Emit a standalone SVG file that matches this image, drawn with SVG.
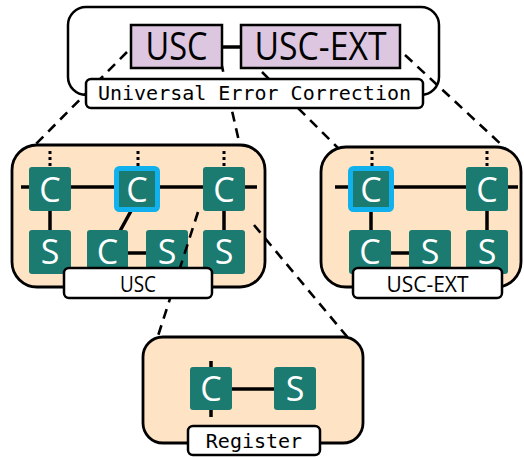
<svg xmlns="http://www.w3.org/2000/svg" width="524" height="457" viewBox="0 0 524 457">
<style>
.box{fill:#fff;stroke:#000;stroke-width:2.5}
.panel{fill:#fee3c4;stroke:#000;stroke-width:2.8}
.purple{fill:#ddc6e0;stroke:#000;stroke-width:2.5}
.tile{fill:#1b7b71}
.hl{fill:#1b7b71;stroke:#10b1ec;stroke-width:5}
.ln{stroke:#000;stroke-width:3.5;fill:none}
.dot{stroke:#000;stroke-width:3;stroke-dasharray:3 3;fill:none}
.dash{stroke:#000;stroke-width:2.6;stroke-dasharray:10 7;fill:none}
.tl{font-family:"Open Sans","Noto Sans",sans-serif;font-size:34px;fill:#fff;text-anchor:middle}
.mono{font-family:"DejaVu Sans Mono","Liberation Mono",monospace;font-size:20px;fill:#000;text-anchor:middle}
.sans{font-family:"Open Sans","Noto Sans",sans-serif;fill:#000;text-anchor:middle}
</style>
<g id="top-box">
<rect class="box" x="68" y="7" width="371" height="88" rx="18"/>
</g>
<g id="left-panel">
<rect class="panel" x="12" y="145" width="253" height="142" rx="25"/>
<line class="ln" x1="21" y1="187" x2="257" y2="187"/>
<line class="ln" x1="50" y1="211" x2="50" y2="230"/>
<line class="ln" x1="224" y1="211" x2="224" y2="230"/>
<line class="ln" x1="131" y1="211" x2="120" y2="231"/>
<line class="ln" x1="128" y1="253" x2="147" y2="253"/>
<line class="dot" x1="50" y1="151" x2="50" y2="166"/>
<line class="dot" x1="138" y1="151" x2="138" y2="166"/>
<line class="dot" x1="224" y1="151" x2="224" y2="166"/>
<rect class="tile" x="29" y="167" width="42" height="44" rx="3"/>
<rect class="hl" x="116.5" y="168.5" width="41" height="41" rx="3"/>
<rect class="tile" x="203" y="167" width="42" height="44" rx="3"/>
<rect class="tile" x="29" y="230" width="42" height="44" rx="3"/>
<rect class="tile" x="87" y="230" width="41" height="44" rx="3"/>
<rect class="tile" x="146" y="230" width="42" height="44" rx="3"/>
<rect class="tile" x="203" y="230" width="42" height="44" rx="3"/>
<text class="tl" x="50" y="202">C</text>
<text class="tl" x="137" y="202">C</text>
<text class="tl" x="224" y="202">C</text>
<text class="tl" x="50" y="264">S</text>
<text class="tl" x="107.5" y="264">C</text>
<text class="tl" x="167" y="264">S</text>
<text class="tl" x="224" y="264">S</text>
</g>
<g id="right-panel">
<rect class="panel" x="321" y="147" width="200" height="140" rx="25"/>
<line class="ln" x1="335" y1="187" x2="518" y2="187"/>
<line class="ln" x1="371" y1="211" x2="371" y2="230"/>
<line class="ln" x1="487" y1="211" x2="487" y2="230"/>
<line class="ln" x1="391" y1="253" x2="409" y2="253"/>
<line class="dot" x1="372" y1="151" x2="372" y2="166"/>
<line class="dot" x1="487" y1="151" x2="487" y2="166"/>
<rect class="hl" x="350.5" y="168.5" width="41" height="41" rx="3"/>
<rect class="tile" x="466" y="167" width="42" height="44" rx="3"/>
<rect class="tile" x="349" y="230" width="42" height="44" rx="3"/>
<rect class="tile" x="409" y="230" width="42" height="44" rx="3"/>
<rect class="tile" x="466" y="230" width="42" height="44" rx="3"/>
<text class="tl" x="371" y="202">C</text>
<text class="tl" x="487" y="202">C</text>
<text class="tl" x="370" y="264">C</text>
<text class="tl" x="430" y="264">S</text>
<text class="tl" x="487" y="264">S</text>
</g>
<g id="register-panel">
<rect class="panel" x="143" y="337" width="220" height="106" rx="20"/>
<line class="ln" x1="232" y1="389" x2="274" y2="389"/>
<line class="ln" x1="211" y1="361" x2="211" y2="367"/>
<line class="ln" x1="211" y1="410" x2="211" y2="417"/>
<rect class="tile" x="190" y="367" width="42" height="43" rx="3"/>
<rect class="tile" x="274" y="367" width="42" height="43" rx="3"/>
<text class="tl" x="211" y="401">C</text>
<text class="tl" x="295" y="401">S</text>
</g>
<g id="connectors">
<line class="dash" x1="127" y1="52" x2="34" y2="146"/>
<line class="dash" x1="221" y1="62" x2="240" y2="146"/>
<line class="dash" x1="262" y1="72" x2="338" y2="148"/>
<line class="dash" x1="405" y1="55" x2="505" y2="148"/>
<line class="dash" x1="198" y1="212" x2="157" y2="339"/>
<line class="dash" x1="254" y1="225" x2="349" y2="339"/>
<line class="ln" x1="222" y1="47" x2="241" y2="47"/>
</g>
<g id="usc-node">
<rect class="purple" x="131" y="25" width="91" height="43"/>
<text class="sans" x="176.5" y="60" font-size="38" textLength="62" lengthAdjust="spacingAndGlyphs">USC</text>
</g>
<g id="usc-ext-node">
<rect class="purple" x="241" y="25" width="159" height="43"/>
<text class="sans" x="320.5" y="60" font-size="38" textLength="132" lengthAdjust="spacingAndGlyphs">USC-EXT</text>
</g>
<g id="uec-label">
<rect class="box" x="86" y="79" width="337" height="29" rx="5"/>
<text class="mono" x="254.5" y="100">Universal Error Correction</text>
</g>
<g id="usc-label">
<rect class="box" x="64" y="268" width="148" height="30" rx="5"/>
<text class="sans" x="138" y="292" font-size="21" textLength="36" lengthAdjust="spacingAndGlyphs">USC</text>
</g>
<g id="usc-ext-label">
<rect class="box" x="353" y="268" width="149" height="30" rx="5"/>
<text class="sans" x="427.5" y="292" font-size="21" textLength="82" lengthAdjust="spacingAndGlyphs">USC-EXT</text>
</g>
<g id="register-label">
<rect class="box" x="188" y="426" width="132" height="29" rx="5"/>
<text class="mono" x="254" y="448">Register</text>
</g>
</svg>
